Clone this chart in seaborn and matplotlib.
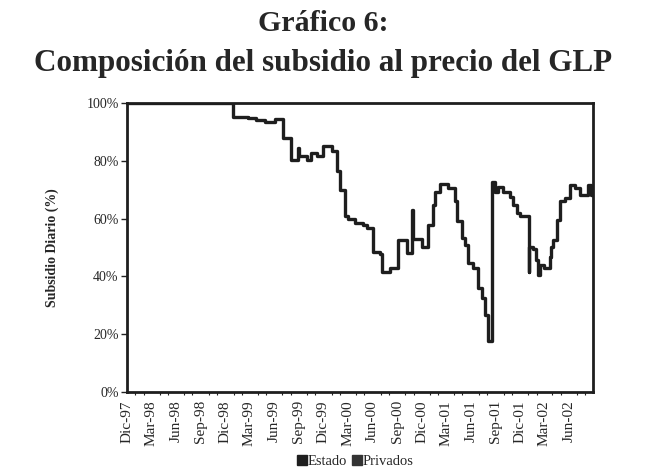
import matplotlib
matplotlib.use("Agg")
import seaborn as sns
import matplotlib.pyplot as plt
import pandas as pd
from matplotlib.lines import Line2D

sns.set_theme(style="white")
plt.rcParams['font.family'] = ['Liberation Serif', 'DejaVu Serif']

# Participación del Estado en el subsidio (%), fechas de cambio (lectura del gráfico)
fechas = [
    "1997-12-01", "1998-12-30", "1999-02-25", "1999-03-26", "1999-04-27",
    "1999-06-03", "1999-07-03", "1999-08-02", "1999-08-29", "1999-09-02",
    "1999-09-30", "1999-10-18", "1999-11-06", "1999-12-01", "2000-01-01",
    "2000-01-20", "2000-02-01", "2000-02-20", "2000-03-01", "2000-03-27",
    "2000-04-26", "2000-05-11", "2000-06-03", "2000-06-29", "2000-07-06",
    "2000-08-05", "2000-09-04", "2000-10-08", "2000-10-27", "2000-10-31",
    "2000-12-03", "2000-12-26", "2001-01-10", "2001-01-21", "2001-02-08",
    "2001-03-10", "2001-04-04", "2001-04-12", "2001-05-01", "2001-05-12",
    "2001-05-23", "2001-06-10", "2001-06-29", "2001-07-14", "2001-07-25",
    "2001-08-05", "2001-08-19", "2001-09-01", "2001-09-12", "2001-09-30",
    "2001-10-26", "2001-11-07", "2001-11-22", "2001-12-03", "2002-01-02",
    "2002-01-05", "2002-01-17", "2002-01-28", "2002-02-08", "2002-02-15",
    "2002-02-27", "2002-03-24", "2002-03-28", "2002-04-04", "2002-04-19",
    "2002-04-30", "2002-05-18", "2002-06-06", "2002-06-25", "2002-07-13",
    "2002-08-12", "2002-08-24", "2002-08-30",
]
estado = [
    100.0, 95.3, 94.8, 94.2, 93.6,
    94.4, 88.0, 80.3, 84.5, 81.5,
    80.3, 82.7, 81.5, 85.0, 83.5,
    76.3, 70.0, 60.7, 59.8, 58.6,
    57.8, 56.6, 48.5, 47.7, 41.6,
    42.8, 52.6, 48.0, 63.0, 53.0,
    50.3, 57.8, 64.7, 69.3, 72.0,
    70.5, 65.9, 59.0, 53.2, 50.9,
    44.5, 42.8, 36.0, 32.4, 26.6,
    17.5, 72.8, 69.3, 71.0, 69.3,
    67.6, 64.7, 61.9, 60.7, 41.6,
    50.3, 49.5, 45.7, 40.5, 43.9,
    42.8, 46.8, 50.3, 52.6, 59.5,
    65.9, 67.0, 71.7, 70.5, 68.2,
    71.7, 68.0, 68.0,
]

tick_labels = ["Dic-97", "Mar-98", "Jun-98", "Sep-98", "Dic-98", "Mar-99",
               "Jun-99", "Sep-99", "Dic-99", "Mar-00", "Jun-00", "Sep-00",
               "Dic-00", "Mar-01", "Jun-01", "Sep-01", "Dic-01", "Mar-02",
               "Jun-02"]
tick_fechas = pd.date_range("1997-12-01", periods=len(tick_labels), freq="3MS")

df = pd.DataFrame({"fecha": pd.to_datetime(fechas), "estado": estado})

fig = plt.figure(figsize=(6.5, 4.74), dpi=100)
ax = fig.add_axes([0.1954, 0.1736, 0.717, 0.609])

sns.lineplot(data=df, x="fecha", y="estado", drawstyle="steps-post",
             color="#1e1e1e", lw=2.4, errorbar=None, ax=ax)

ax.set_xlim(df["fecha"].min(), df["fecha"].max())
ax.set_ylim(0, 100)

ax.set_yticks(range(0, 101, 20))
ax.set_yticklabels([f"{v}%" for v in range(0, 101, 20)], fontsize=10)
ax.set_xticks(tick_fechas)
ax.set_xticklabels(tick_labels, rotation=90, fontsize=11)
ax.set_xticks(pd.date_range("1997-12-01", "2002-08-30", freq="MS"), minor=True)
ax.tick_params(axis="x", which="major", direction="out", length=4, width=1,
               color="#222222", pad=2)
ax.tick_params(axis="x", which="minor", direction="out", length=2, width=0.8,
               color="#222222", bottom=True)
ax.tick_params(axis="y", direction="out", length=4, width=1,
               color="#222222", left=True, pad=2)

for sp in ax.spines.values():
    sp.set_color("#1e1e1e")
    sp.set_linewidth(2)

ax.set_xlabel("")
ax.set_ylabel("Subsidio Diario (%)", fontsize=10, fontweight="bold")
ax.yaxis.set_label_coords(-0.145, 0.5)

fig.text(0.497, 0.951, "Gráfico 6:", ha="center", va="center",
         fontsize=21.5, fontweight="bold")
fig.text(0.497, 0.867, "Composición del subsidio al precio del GLP",
         ha="center", va="center", fontsize=22.4, fontweight="bold")

handles = [Line2D([], [], marker="s", ls="", color="#1e1e1e", markersize=6.5),
           Line2D([], [], marker="s", ls="", color="#333333", markersize=6.5)]
fig.legend(handles, ["Estado", "Privados"], loc="center",
           bbox_to_anchor=(0.547, 0.027), ncol=2, frameon=False, fontsize=10.5,
           handlelength=0.6, handletextpad=0.1, columnspacing=0.4)

fig.savefig("out.png", dpi=100, facecolor="white")
